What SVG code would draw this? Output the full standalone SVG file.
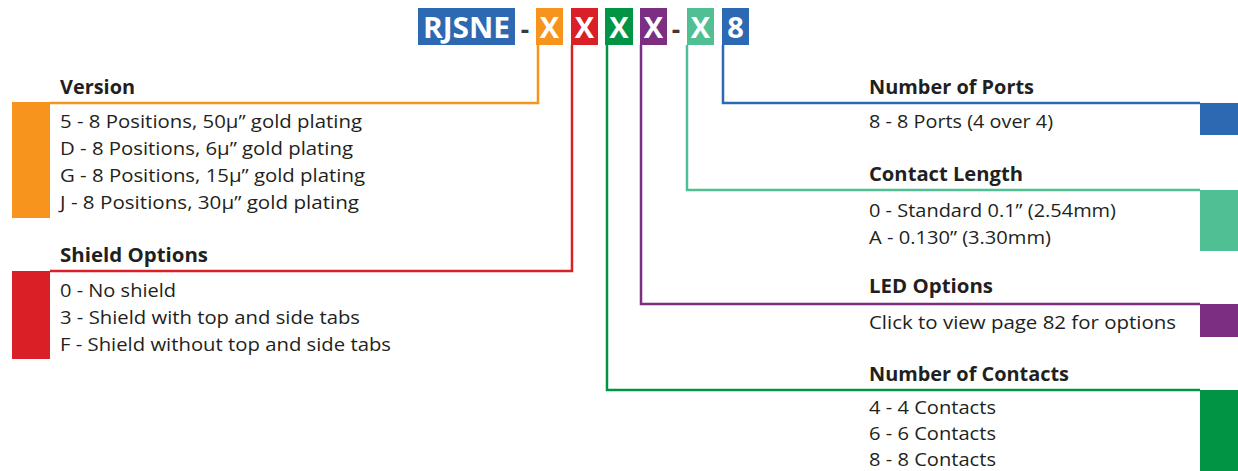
<svg xmlns="http://www.w3.org/2000/svg" width="1238" height="471" viewBox="0 0 1238 471">
<style>
.code{font-family:"Open Sans","Liberation Sans",sans-serif;font-weight:700;font-size:29px;fill:#fff;text-anchor:middle}
.dash{font-family:"Open Sans","Liberation Sans",sans-serif;font-weight:700;font-size:26px;fill:#3a3a3a;text-anchor:middle}
.h{font-family:"Open Sans","Liberation Sans",sans-serif;font-weight:700;font-size:19px;fill:#231f20}
.t{font-family:"Open Sans","Liberation Sans",sans-serif;font-size:19px;fill:#231f20}
.c{fill:none;stroke-width:2.5}
</style>
<rect width="1238" height="471" fill="#fff"/>
<g id="connectors">
<path class="c" stroke="#f7941d" d="M538,45 V103 H50"/>
<path class="c" stroke="#da1f26" d="M572,45 V271 H50"/>
<path class="c" stroke="#009444" d="M607,45 V390 H1200"/>
<path class="c" stroke="#7b2e82" d="M641,45 V304 H1200"/>
<path class="c" stroke="#50bf93" d="M687,45 V190 H1200"/>
<path class="c" stroke="#2d68b2" d="M723,45 V103 H1200"/>
</g>
<g id="code">
<g id="code-rjsne"><rect x="418" y="8" width="97" height="37" fill="#2d68b2"/><text class="code" x="466.5" y="38" textLength="87" lengthAdjust="spacingAndGlyphs">RJSNE</text></g>
<text class="dash" x="525" y="39">-</text>
<g id="code-version"><rect x="536" y="8" width="27" height="37" fill="#f7941d"/><text class="code" x="549.5" y="38">X</text></g>
<g id="code-shield"><rect x="571" y="8" width="27" height="37" fill="#da1f26"/><text class="code" x="584.5" y="38">X</text></g>
<g id="code-contacts"><rect x="605" y="8" width="28" height="37" fill="#009444"/><text class="code" x="619" y="38">X</text></g>
<g id="code-led"><rect x="640" y="8" width="27" height="37" fill="#7b2e82"/><text class="code" x="653.5" y="38">X</text></g>
<text class="dash" x="676" y="39">-</text>
<g id="code-length"><rect x="687" y="8" width="27" height="37" fill="#50bf93"/><text class="code" x="700.5" y="38">X</text></g>
<g id="code-ports"><rect x="722" y="8" width="27" height="37" fill="#2d68b2"/><text class="code" x="735.5" y="38">8</text></g>
</g>
<g id="version">
<rect x="12" y="102" width="38" height="116" fill="#f7941d"/>
<text class="h" x="60" y="94" textLength="75" lengthAdjust="spacingAndGlyphs">Version</text>
<text class="t" x="60" y="128" textLength="302" lengthAdjust="spacingAndGlyphs">5 - 8 Positions, 50μ” gold plating</text>
<text class="t" x="60" y="155" textLength="293" lengthAdjust="spacingAndGlyphs">D - 8 Positions, 6μ” gold plating</text>
<text class="t" x="60" y="182" textLength="305" lengthAdjust="spacingAndGlyphs">G - 8 Positions, 15μ” gold plating</text>
<text class="t" x="60" y="209" textLength="299" lengthAdjust="spacingAndGlyphs">J - 8 Positions, 30μ” gold plating</text>
</g>
<g id="shield">
<rect x="12" y="271" width="38" height="88" fill="#da1f26"/>
<text class="h" x="60" y="262" textLength="148" lengthAdjust="spacingAndGlyphs">Shield Options</text>
<text class="t" x="60" y="297" textLength="116" lengthAdjust="spacingAndGlyphs">0 - No shield</text>
<text class="t" x="60" y="324" textLength="300" lengthAdjust="spacingAndGlyphs">3 - Shield with top and side tabs</text>
<text class="t" x="60" y="351" textLength="331" lengthAdjust="spacingAndGlyphs">F - Shield without top and side tabs</text>
</g>
<g id="ports">
<rect x="1200" y="103" width="38" height="32" fill="#2d68b2"/>
<text class="h" x="869" y="94" textLength="165" lengthAdjust="spacingAndGlyphs">Number of Ports</text>
<text class="t" x="869" y="128" textLength="184" lengthAdjust="spacingAndGlyphs">8 - 8 Ports (4 over 4)</text>
</g>
<g id="length">
<rect x="1200" y="190" width="38" height="61" fill="#50bf93"/>
<text class="h" x="869" y="181" textLength="154" lengthAdjust="spacingAndGlyphs">Contact Length</text>
<text class="t" x="869" y="217" textLength="247" lengthAdjust="spacingAndGlyphs">0 - Standard 0.1” (2.54mm)</text>
<text class="t" x="869" y="244" textLength="182" lengthAdjust="spacingAndGlyphs">A - 0.130” (3.30mm)</text>
</g>
<g id="led">
<rect x="1200" y="304" width="38" height="33" fill="#7b2e82"/>
<text class="h" x="869" y="293" textLength="124" lengthAdjust="spacingAndGlyphs">LED Options</text>
<text class="t" x="869" y="329" textLength="307" lengthAdjust="spacingAndGlyphs">Click to view page 82 for options</text>
</g>
<g id="contacts">
<rect x="1200" y="390" width="38" height="81" fill="#009444"/>
<text class="h" x="869" y="381" textLength="200" lengthAdjust="spacingAndGlyphs">Number of Contacts</text>
<text class="t" x="869" y="414" textLength="127" lengthAdjust="spacingAndGlyphs">4 - 4 Contacts</text>
<text class="t" x="869" y="440" textLength="127" lengthAdjust="spacingAndGlyphs">6 - 6 Contacts</text>
<text class="t" x="869" y="466" textLength="127" lengthAdjust="spacingAndGlyphs">8 - 8 Contacts</text>
</g>
</svg>
